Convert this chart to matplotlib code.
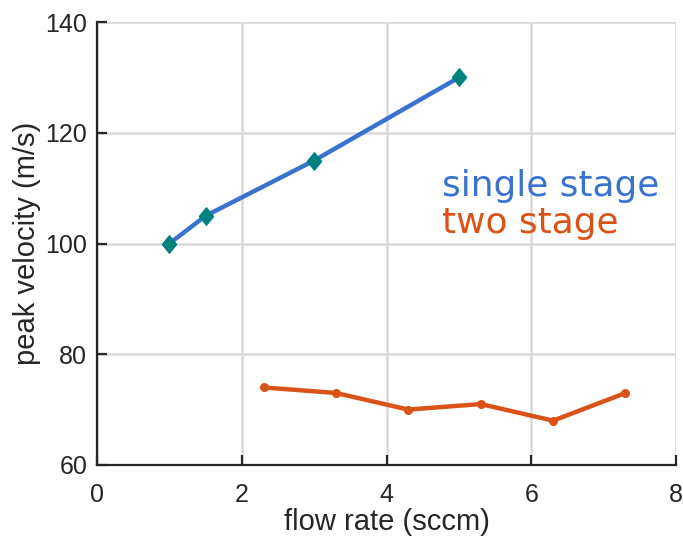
import matplotlib.pyplot as plt
from matplotlib.path import Path

single_x = [1, 1.5, 3, 5]
single_y = [100, 105, 115, 130]
two_x = [2.3, 3.3, 4.3, 5.3, 6.3, 7.3]
two_y = [74, 73, 70, 71, 68, 73]
xticks = [0, 2, 4, 6, 8]
yticks = [60, 80, 100, 120, 140]

plt.rcParams['font.family'] = ['Liberation Sans', 'DejaVu Sans']

fig = plt.figure(figsize=(6.83, 5.4), dpi=100)
ax = fig.add_axes([0.142, 0.139, 0.848, 0.820])

blue = '#3a72cf'
orange = '#d95319'
diamond = Path([(0, 1), (0.82, 0), (0, -1), (-0.82, 0), (0, 1)], closed=True)

ax.plot(single_x, single_y, color=blue, lw=3.2, zorder=3)
ax.plot(single_x, single_y, ls='none', marker=diamond, ms=12.5, color='#00807f', zorder=4)
ax.plot(two_x, two_y, color=orange, lw=3.2, marker='o', ms=5.5, zorder=3)

ax.text(4.76, 108.6, 'single stage', color=blue, fontsize=25.8,
        family='DejaVu Sans', va='baseline')
ax.text(4.76, 101.9, 'two stage', color=orange, fontsize=25.8,
        family='DejaVu Sans', va='baseline')

ax.set_xlim(0, 8)
ax.set_ylim(60, 140)
ax.set_xticks(xticks)
ax.set_yticks(yticks)
ax.grid(True, color='#d9d9d9', lw=1.8)
ax.set_axisbelow(True)
for s in ['top', 'right']:
    ax.spines[s].set_visible(False)
for s in ['left', 'bottom']:
    ax.spines[s].set_linewidth(1.6)
    ax.spines[s].set_color('#262626')
ax.tick_params(direction='in', length=7, width=1.6, labelsize=18, colors='#262626')
ax.tick_params(axis='x', pad=13)
ax.tick_params(axis='y', pad=7)
ax.set_xlabel('flow rate (sccm)', fontsize=21, color='#262626', labelpad=1)
ax.set_ylabel('peak velocity (m/s)', fontsize=21, color='#262626', labelpad=3)

plt.savefig('out.png', dpi=100)
